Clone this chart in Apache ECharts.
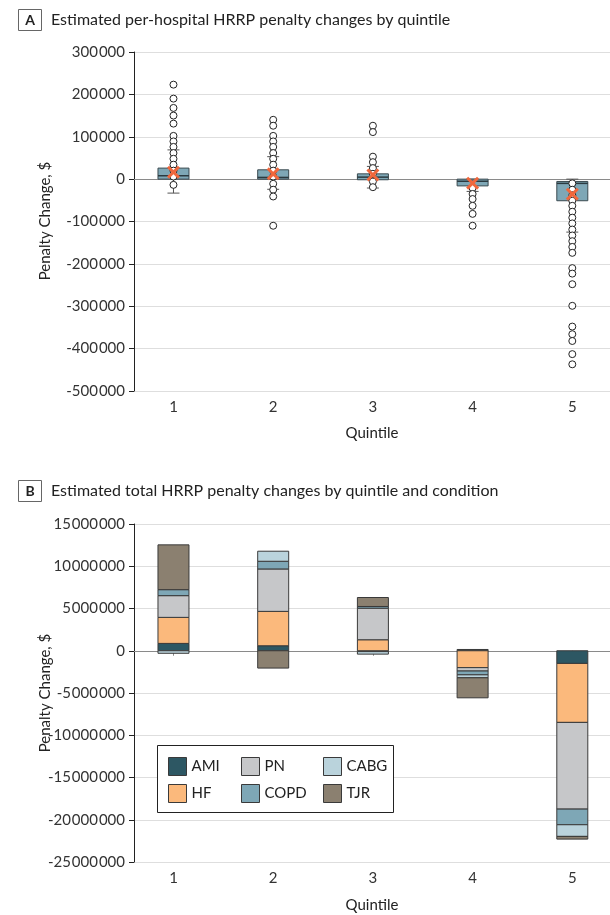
<!DOCTYPE html>
<html><head><meta charset="utf-8">
<script src="https://cdn.jsdelivr.net/npm/echarts@6/dist/echarts.min.js"></script>
<style>html,body{margin:0;padding:0;background:#fff;} #c{width:610px;height:915px;}</style>
</head><body><div id="c"></div>
<script>
// ---------- shared ----------
const quintiles = [1, 2, 3, 4, 5];
const quintileLabels = ['1', '2', '3', '4', '5'];

// ---------- Panel A: per-hospital penalty change box plots ----------
const yTicksA = [-500000, -400000, -300000, -200000, -100000, 0, 100000, 200000, 300000];
const boxMin    = [-33000, -24000, -21000, -29000, -125000];
const boxQ1     = [0, 0, -1500, -16000, -51000];
const boxMedian = [8000, 4000, 4700, -5000, -10000];
const boxQ3     = [26000, 22000, 12500, 0, -5500];
const boxMax    = [69000, 53000, 30000, 0, 0];
const boxMean   = [16500, 12500, 10000, -9500, -35500];
const pointsQ1 = [223000, 190000, 168000, 150000, 131000, 102000, 89000, 76000, 61500, 48000, 34000, 20000, 6000, -13500];
const pointsQ2 = [140000, 126000, 102000, 89000, 76000, 61500, 48000, 34000, 20000, 6000, -11000, -25000, -41000, -110000];
const pointsQ3 = [126000, 111000, 53000, 40000, 26000, 12500, -5700, -19000];
const pointsQ4 = [-21000, -35000, -47000, -63000, -82000, -110000];
const pointsQ5 = [-10000, -25000, -38000, -51000, -63000, -77000, -91000, -104500, -119000, -133000, -146500, -160000, -174000, -210000, -223000, -248000, -299000, -348000, -366000, -382000, -413000, -437000];

// ---------- Panel B: total penalty change by condition ----------
const yTicksB = [-25000000, -20000000, -15000000, -10000000, -5000000, 0, 5000000, 10000000, 15000000];
const conditions = ['AMI', 'HF', 'PN', 'COPD', 'CABG', 'TJR'];
const legendOrder = ['AMI', 'PN', 'CABG', 'HF', 'COPD', 'TJR'];
const valAMI  = [870000, 590000, -100000, 150000, -1500000];
const valHF   = [3080000, 4070000, 1300000, -2000000, -6980000];
const valPN   = [2570000, 5020000, 3740000, -400000, -10260000];
const valCOPD = [710000, 910000, 200000, -450000, -1850000];
const valCABG = [-300000, 1190000, -300000, -350000, -1380000];
const valTJR  = [5300000, -2050000, 1060000, -2370000, -320000];
const condColors = ['#2D5763', '#FBB97C', '#C6C7C9', '#7EA7B6', '#BAD3DC', '#8B8070'];

// ---------- helpers ----------
const FONT = 'Lato';
function fmt(v) {
  const s = Math.abs(v).toString().replace(/\B(?=(\d{3})+(?!\d))/g, '\u200A');
  return (v < 0 ? '-' : '') + s;
}
const xMin = 0.604, xMax = 5.378;
function splitColors(ticks) { return ticks.map(t => t === 0 ? '#8a8a8a' : '#dedede'); }

function xAxisCfg(gi) {
  return {
    type: 'value', gridIndex: gi, min: xMin, max: xMax,
    axisLine: { show: true, lineStyle: { color: '#8a8a8a', width: 1 } },
    axisTick: { show: true, length: 5, lineStyle: { color: '#8a8a8a' }, customValues: quintiles },
    axisLabel: { customValues: quintiles, fontSize: 15, color: '#333', fontFamily: FONT, margin: 9,
      formatter: v => quintileLabels[quintiles.indexOf(Math.round(v))] },
    splitLine: { show: false }
  };
}
function yAxisCfg(gi, ticks) {
  return {
    type: 'value', gridIndex: gi, min: ticks[0], max: ticks[ticks.length - 1], interval: ticks[1] - ticks[0],
    axisLine: { show: true, lineStyle: { color: '#222', width: 1 } },
    axisTick: { show: true, length: 5, lineStyle: { color: '#222' } },
    axisLabel: { fontSize: 15, color: '#333', fontFamily: FONT, margin: 9, formatter: fmt },
    splitLine: { show: true, lineStyle: { color: splitColors(ticks), width: 1 } }
  };
}

const boxData = quintiles.map((q, i) => [q, boxMin[i], boxQ1[i], boxMedian[i], boxQ3[i], boxMax[i]]);
const allPoints = [pointsQ1, pointsQ2, pointsQ3, pointsQ4, pointsQ5];
const pointData = [];
allPoints.forEach((arr, i) => arr.forEach(v => pointData.push([quintiles[i], v])));
const meanData = quintiles.map((q, i) => [q, boxMean[i]]);

// stacked bars (same-sign stacking), drawn through the axes' coordinate mapping
const condValues = [valAMI, valHF, valPN, valCOPD, valCABG, valTJR];
const posAcc = quintiles.map(() => 0), negAcc = quintiles.map(() => 0);
const BORDER = '#3a3a3a';
const barSeries = conditions.map((name, k) => {
  const data = quintiles.map((q, i) => {
    const v = condValues[k][i];
    let b;
    if (v >= 0) { b = posAcc[i]; posAcc[i] += v; } else { b = negAcc[i]; negAcc[i] += v; }
    return [q, b, b + v];
  });
  const color = condColors[k];
  return {
    name, type: 'custom', xAxisIndex: 1, yAxisIndex: 1, z: 2,
    itemStyle: { color: color, borderColor: BORDER, borderWidth: 1 },
    encode: { x: 0, y: [1, 2] },
    data,
    renderItem: function (params, api) {
      const x = api.value(0);
      const p0 = api.coord([x, api.value(1)]);
      const p1 = api.coord([x, api.value(2)]);
      const hw = 15.5;
      const top = Math.min(p0[1], p1[1]), h = Math.abs(p1[1] - p0[1]);
      return { type: 'rect', shape: { x: p0[0] - hw, y: top, width: 2 * hw, height: h },
        style: { fill: color, stroke: BORDER, lineWidth: 1 } };
    }
  };
});

function panelHeader(letter, title, cy) {
  return [
    { type: 'rect', shape: { x: 18.5, y: cy - 10.5, width: 23, height: 21 }, style: { fill: '#fff', stroke: '#666', lineWidth: 1 } },
    { type: 'text', x: 30, y: cy, style: { text: letter, fontSize: 14, fontWeight: 'bold', fill: '#222', fontFamily: FONT, align: 'center', verticalAlign: 'middle' } },
    { type: 'text', x: 51, y: cy, style: { text: title, fontSize: 16, fill: '#222', fontFamily: FONT, align: 'left', verticalAlign: 'middle' } }
  ];
}
function axisTitles(cyName, cyQuint) {
  return [
    { type: 'text', x: 45, y: cyName, rotation: Math.PI / 2, style: { text: 'Penalty Change, $', fontSize: 15, fill: '#222', fontFamily: FONT, align: 'center', verticalAlign: 'middle' } },
    { type: 'text', x: 372, y: cyQuint, style: { text: 'Quintile', fontSize: 15, fill: '#222', fontFamily: FONT, align: 'center', verticalAlign: 'middle' } }
  ];
}

const chart = echarts.init(document.getElementById('c'), null, { renderer: 'canvas' });
const legendBase = { orient: 'vertical', itemWidth: 18, itemHeight: 18, itemGap: 8, padding: 0, icon: 'rect', z: 5,
  textStyle: { fontSize: 15, color: '#222', fontFamily: FONT }, selectedMode: false };
function legendItems(names) {
  return names.map(n => ({ name: n, itemStyle: { color: condColors[conditions.indexOf(n)], borderColor: BORDER, borderWidth: 1 } }));
}

chart.setOption({
  animation: false,
  textStyle: { fontFamily: FONT },
  grid: [
    { left: 134, top: 52, width: 476, height: 339 },
    { left: 134, top: 524, width: 476, height: 338 }
  ],
  xAxis: [xAxisCfg(0), xAxisCfg(1)],
  yAxis: [yAxisCfg(0, yTicksA), yAxisCfg(1, yTicksB)],
  legend: [
    Object.assign({}, legendBase, { left: 168, top: 757, data: legendItems([legendOrder[0], legendOrder[3]]) }),
    Object.assign({}, legendBase, { left: 241, top: 757, data: legendItems([legendOrder[1], legendOrder[4]]) }),
    Object.assign({}, legendBase, { left: 323, top: 757, data: legendItems([legendOrder[2], legendOrder[5]]) })
  ],
  graphic: [].concat(
    panelHeader('A', 'Estimated per-hospital HRRP penalty changes by quintile', 20),
    panelHeader('B', 'Estimated total HRRP penalty changes by quintile and condition', 491),
    axisTitles(221, 433),
    axisTitles(693, 905),
    [{ type: 'rect', z: 3, shape: { x: 157.5, y: 745.5, width: 236, height: 67 }, style: { fill: '#fff', stroke: '#222', lineWidth: 1 } }]
  ),
  series: [
    {
      type: 'custom', xAxisIndex: 0, yAxisIndex: 0, z: 2,
      encode: { x: 0, y: [1, 2, 3, 4, 5] },
      data: boxData,
      renderItem: function (params, api) {
        const x = api.value(0);
        const pMin = api.coord([x, api.value(1)]);
        const pQ1 = api.coord([x, api.value(2)]);
        const pMed = api.coord([x, api.value(3)]);
        const pQ3 = api.coord([x, api.value(4)]);
        const pMax = api.coord([x, api.value(5)]);
        const cx = pMed[0], hw = 15.5, cw = 6;
        const ls = { stroke: '#555', lineWidth: 1 };
        return { type: 'group', children: [
          { type: 'line', shape: { x1: cx, y1: pMax[1], x2: cx, y2: pQ3[1] }, style: ls },
          { type: 'line', shape: { x1: cx, y1: pQ1[1], x2: cx, y2: pMin[1] }, style: ls },
          { type: 'line', shape: { x1: cx - cw, y1: pMax[1], x2: cx + cw, y2: pMax[1] }, style: ls },
          { type: 'line', shape: { x1: cx - cw, y1: pMin[1], x2: cx + cw, y2: pMin[1] }, style: ls },
          { type: 'rect', shape: { x: cx - hw, y: pQ3[1], width: 2 * hw, height: Math.max(pQ1[1] - pQ3[1], 1) }, style: { fill: '#7EA7B6', stroke: '#3b4a50', lineWidth: 1 } },
          { type: 'line', shape: { x1: cx - hw, y1: pMed[1], x2: cx + hw, y2: pMed[1] }, style: { stroke: '#2b3a40', lineWidth: 1.5 } }
        ] };
      }
    },
    {
      type: 'scatter', xAxisIndex: 0, yAxisIndex: 0, z: 3, symbol: 'circle', symbolSize: 7,
      itemStyle: { color: '#fff', borderColor: '#222', borderWidth: 1, opacity: 1 },
      data: pointData
    },
    {
      type: 'scatter', xAxisIndex: 0, yAxisIndex: 0, z: 4, symbolSize: 13,
      symbol: 'path://M1.6,0 L5,3.4 L8.4,0 L10,1.6 L6.6,5 L10,8.4 L8.4,10 L5,6.6 L1.6,10 L0,8.4 L3.4,5 L0,1.6 Z',
      itemStyle: { color: '#F0673C', opacity: 1 },
      data: meanData
    }
  ].concat(barSeries)
});
</script>
</body></html>
